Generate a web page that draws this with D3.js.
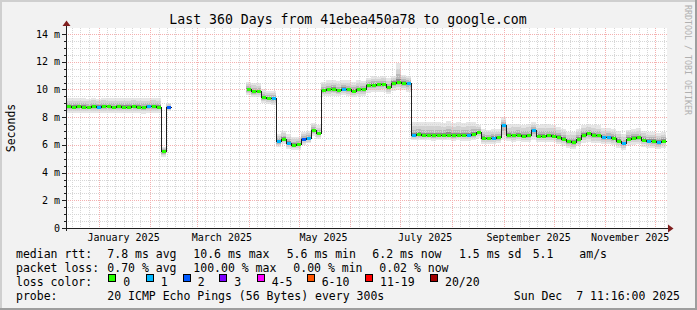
<!DOCTYPE html>
<html><head><meta charset="utf-8">
<script src="https://cdn.jsdelivr.net/npm/d3@7/dist/d3.min.js"></script>
<style>
html,body{margin:0;padding:0;background:#f2f2f2;}
svg{display:block;}
text{font-family:"DejaVu Sans Mono",monospace;fill:#000;}
</style></head><body>
<svg id="chart" width="697" height="310"></svg>
<script>
// ---------------- DATA ----------------
const startTime = new Date(2024, 11, 12, 11, 16);
const endTime   = new Date(2025, 11, 7, 11, 16);
const stepDays  = 3; // one sample every 3 days

// median RTT (ms), null = no data
const median = [
  8.78,8.75,8.78,8.76,8.74,8.78,8.75,8.77,8.78,8.74,8.80,8.76,8.75,8.78,8.76,8.74,8.77,8.78,8.76,
  5.55,8.70,
  null,null,null,null,null,null,null,null,null,null,null,null,null,null,null,
  10.02,9.88,9.90,9.45,9.40,9.35,6.25,6.45,6.15,6.02,6.05,6.45,6.50,7.05,6.85,
  9.95,10.00,10.05,9.95,10.05,10.00,9.92,10.00,10.02,10.30,10.35,10.38,10.40,10.15,10.50,10.55,10.50,10.45,
  6.72,6.75,6.70,6.74,6.68,6.72,6.70,6.74,6.68,6.72,6.70,6.70,6.75,6.95,6.52,6.50,6.52,6.55,7.45,
  6.70,6.68,6.72,6.65,6.68,7.05,6.66,6.66,6.68,6.65,6.58,6.45,6.25,6.22,6.45,6.72,6.82,6.72,6.68,
  6.55,6.55,6.52,6.30,6.10,6.45,6.52,6.55,6.38,6.30,6.30,6.22,6.30
];
// loss bucket index per sample (0 = "0", 1 = "1", 2 = "2", ...)
const lossIdx = [
  0,0,0,0,0,0,1,0,0,0,0,0,0,0,0,0,1,0,0,
  0,2,
  0,0,0,0,0,0,0,0,0,0,0,0,0,0,0,
  0,0,0,0,0,1,1,0,1,0,0,2,1,0,0,
  0,0,0,0,1,0,0,0,0,0,0,0,0,0,0,0,0,1,
  1,0,0,0,0,0,0,0,0,0,0,1,0,0,0,0,1,0,1,
  0,0,0,0,0,1,0,0,0,0,0,0,0,0,0,0,0,0,0,
  1,1,0,0,1,0,0,0,0,1,0,1,0
];
// smoke extent above / below the median (ms)
const smokeUp = [
  0.60,0.62,0.58,0.63,0.60,0.62,0.58,0.64,0.60,0.62,0.58,0.63,0.60,0.62,0.60,0.62,0.58,0.62,0.60,
  0.30,0.35,
  0,0,0,0,0,0,0,0,0,0,0,0,0,0,0,
  0.55,0.60,0.55,0.55,0.50,0.55,0.55,0.55,0.60,0.55,0.55,0.50,0.50,0.55,0.55,
  0.60,0.65,0.60,0.65,0.60,0.65,0.60,0.65,0.60,0.55,0.60,0.55,0.60,0.65,0.50,1.35,0.55,0.55,
  0.95,0.90,0.95,0.90,0.95,0.92,0.90,0.95,0.90,0.92,0.90,0.95,0.90,0.45,0.65,0.60,0.65,0.60,0.55,
  0.80,0.85,0.80,0.80,0.85,0.60,0.80,0.85,0.80,0.80,0.70,0.70,0.70,0.72,0.70,0.72,0.65,0.70,0.72,
  0.65,0.70,0.65,0.70,0.70,0.65,0.60,0.65,0.65,0.60,0.65,0.65,0.60
];
const smokeDown = [
  0.45,0.48,0.45,0.46,0.45,0.48,0.45,0.45,0.46,0.45,0.48,0.45,0.46,0.45,0.45,0.48,0.45,0.46,0.45,
  0.45,0.25,
  0,0,0,0,0,0,0,0,0,0,0,0,0,0,0,
  0.45,0.45,0.45,0.45,0.45,0.45,0.40,0.40,0.45,0.40,0.40,0.45,0.40,0.40,0.40,
  0.45,0.45,0.50,0.45,0.45,0.50,0.45,0.45,0.50,0.55,0.55,0.60,0.55,0.45,0.60,0.60,0.55,0.60,
  0.40,0.40,0.38,0.40,0.40,0.40,0.38,0.40,0.40,0.38,0.40,0.40,0.40,0.45,0.45,0.45,0.45,0.45,1.10,
  0.45,0.45,0.45,0.45,0.45,0.70,0.45,0.45,0.45,0.45,0.50,0.50,0.50,0.50,0.55,0.55,0.60,0.60,0.55,
  0.50,0.50,0.55,0.50,0.45,0.50,0.50,0.50,0.50,0.50,0.55,0.50,0.50
];

const yTickValues = [0, 2, 4, 6, 8, 10, 12, 14];
const xTickLabels = ["January 2025", "March 2025", "May 2025", "July 2025", "September 2025", "November 2025"];
const lossLabels = ["0", "1", "2", "3", "4-5", "6-10", "11-19", "20/20"];
const lossColors = ["#26ff00", "#00b8ff", "#0059ff", "#7e00ff", "#ff00ff", "#ff5500", "#ff0000", "#a10000"];

const titleText = "Last 360 Days from 41ebea450a78 to google.com";
const legendRows = [
  [["median rtt:", 16], ["7.8 ms avg", 107.3], ["10.6 ms max", 193.3], ["5.6 ms min", 286.7], ["6.2 ms now", 372.3], ["1.5 ms sd", 459], ["5.1", 532.7], ["am/s", 579.3]],
  [["packet loss:", 16], ["0.70 % avg", 107.3], ["100.00 % max", 193.3], ["0.00 % min", 293.3], ["0.02 % now", 379.3]],
  [["loss color:", 16]],
  [["probe:", 16], ["20 ICMP Echo Pings (56 Bytes) every 300s", 107.3]]
];
const lossBoxX = [108.3, 145.7, 182.7, 219.3, 256.7, 306.7, 365, 430];
const dateStamp = "Sun Dec  7 11:16:00 2025";

// ---------------- CHART ----------------
const W = 697, H = 310;
const L = 66, R = 666, T = 28, B = 228;
const svg = d3.select("#chart");

const x = d3.scaleTime().domain([startTime, endTime]).range([L, R]);
const y = d3.scaleLinear().domain([0, 14]).range([B, 34]);

// background + bevel
svg.append("rect").attr("width", W).attr("height", H).attr("fill", "#f2f2f2");
svg.append("path").attr("d", `M0,0H${W}V2H2V${H}H0Z`).attr("fill", "#cfcfcf");
svg.append("path").attr("d", `M${W},${H}H0V${H-2}H${W-2}V0H${W}Z`).attr("fill", "#9e9e9e");

// canvas
svg.append("rect").attr("x", L).attr("y", T).attr("width", R - L + 1).attr("height", B - T)
  .attr("fill", "#ffffff");

const samples = median.map((m, i) => ({
  t0: d3.timeDay.offset(startTime, i * stepDays),
  t1: d3.timeDay.offset(startTime, (i + 1) * stepDays),
  m, loss: lossIdx[i], up: smokeUp[i], down: smokeDown[i]
})).filter(d => d.t0 < endTime);

// smoke
const smokeLayers = [
  {f: 1.00, c: "#e6e6e6"},
  {f: 0.68, c: "#d2d2d2"},
  {f: 0.40, c: "#b8b8b8"},
  {f: 0.16, c: "#8c8c8c"}
];
const gSmoke = svg.append("g").attr("shape-rendering", "crispEdges");
smokeLayers.forEach(layer => {
  gSmoke.selectAll(null).data(samples.filter(d => d.m != null)).enter().append("rect")
    .attr("x", d => Math.round(x(d.t0)))
    .attr("width", d => Math.round(x(d.t1)) - Math.round(x(d.t0)))
    .attr("y", d => Math.round(y(d.m + d.up * layer.f)))
    .attr("height", d => Math.max(1, Math.round(y(d.m - d.down * layer.f)) - Math.round(y(d.m + d.up * layer.f))))
    .attr("fill", layer.c);
});

// grid
const minorCol = "#d6d6d6", majorCol = "#f4b0b0";
const gGrid = svg.append("g").attr("shape-rendering", "crispEdges");
const minorDays = [1, 6, 11, 16, 21, 26];
const months = d3.timeMonth.range(d3.timeMonth.floor(startTime), endTime);
const minorDates = [];
months.forEach(mo => minorDays.forEach(dd => {
  const dt = new Date(mo.getFullYear(), mo.getMonth(), dd);
  if (dt > startTime && dt < endTime) minorDates.push(dt);
}));
minorDates.filter(d => d.getDate() !== 1).forEach(d => {
  const px = Math.round(x(d)) + 0.5;
  gGrid.append("line").attr("x1", px).attr("x2", px).attr("y1", T).attr("y2", B)
    .attr("stroke", minorCol).attr("stroke-dasharray", "1,1");
});
const yMinor = d3.range(0.5, y.invert(T), 0.5).filter(v => v % 2 !== 0);
yMinor.forEach(v => {
  const py = Math.round(y(v)) + 0.5;
  gGrid.append("line").attr("x1", L).attr("x2", R + 1).attr("y1", py).attr("y2", py)
    .attr("stroke", minorCol).attr("stroke-dasharray", "1,1");
});
minorDates.filter(d => d.getDate() === 1).forEach(d => {
  const px = Math.round(x(d)) + 0.5;
  gGrid.append("line").attr("x1", px).attr("x2", px).attr("y1", T).attr("y2", B)
    .attr("stroke", majorCol).attr("stroke-dasharray", "1,1");
});
yTickValues.filter(v => v > 0).forEach(v => {
  const py = Math.round(y(v)) + 0.5;
  gGrid.append("line").attr("x1", L).attr("x2", R + 1).attr("y1", py).attr("y2", py)
    .attr("stroke", majorCol).attr("stroke-dasharray", "1,1");
});

// median black line
const linePts = [];
samples.forEach(d => {
  if (d.m == null) { linePts.push(null); return; }
  linePts.push({t: d.t0, v: d.m});
  linePts.push({t: d.t1, v: d.m});
});
const line = d3.line().defined(d => d != null)
  .x(d => Math.round(x(d.t)) + 0.5).y(d => Math.round(y(d.v)) + 0.5);
svg.append("path").attr("d", line(linePts)).attr("fill", "none")
  .attr("stroke", "#202020").attr("stroke-width", 1).attr("shape-rendering", "crispEdges");

// loss-colored median
svg.append("g").attr("shape-rendering", "crispEdges")
  .selectAll("rect").data(samples.filter(d => d.m != null)).enter().append("rect")
  .attr("x", d => Math.round(x(d.t0)) + 1)
  .attr("width", d => Math.round(x(d.t1)) - Math.round(x(d.t0)) - 1)
  .attr("y", d => Math.round(y(d.m)) - 1)
  .attr("height", 3)
  .attr("fill", d => lossColors[d.loss]);

// axes
const gAxis = svg.append("g").attr("shape-rendering", "crispEdges");
gAxis.append("line").attr("x1", 62).attr("x2", 670).attr("y1", B + 0.5).attr("y2", B + 0.5).attr("stroke", "#1f1f1f");
gAxis.append("line").attr("x1", L + 0.5).attr("x2", L + 0.5).attr("y1", B + 3).attr("y2", 25).attr("stroke", "#1f1f1f");
yTickValues.forEach(v => {
  const py = Math.round(y(v)) + 0.5;
  gAxis.append("line").attr("x1", 62).attr("x2", L).attr("y1", py).attr("y2", py).attr("stroke", "#1f1f1f");
});
yMinor.forEach(v => {
  const py = Math.round(y(v)) + 0.5;
  gAxis.append("line").attr("x1", 64).attr("x2", L).attr("y1", py).attr("y2", py).attr("stroke", "#1f1f1f");
});
svg.append("path").attr("d", "M668,224.5L673.5,228.5L668,232.5Z").attr("fill", "#801f1f");
svg.append("path").attr("d", "M62.5,26L66.5,20.5L70.5,26Z").attr("fill", "#801f1f");

// y tick labels
svg.append("g").selectAll("text").data(yTickValues).enter().append("text")
  .attr("x", 60).attr("y", v => y(v) + 3.5).attr("text-anchor", "end")
  .attr("font-size", "10px").text(v => v === 0 ? "0" : v + " m");

// x tick labels (centered at mid-month)
const parseMonth = d3.timeParse("%B %Y");
svg.append("g").selectAll("text").data(xTickLabels).enter().append("text")
  .attr("x", s => x(d3.timeDay.offset(parseMonth(s), 15)))
  .attr("y", 241).attr("text-anchor", "middle").attr("font-size", "10px").text(s => s);

// title
svg.append("text").attr("x", 348).attr("y", 23.5).attr("text-anchor", "middle")
  .attr("font-size", "13.2px").text(titleText);

// y label
svg.append("text").attr("transform", `translate(15,${(T + B) / 2}) rotate(-90)`)
  .attr("text-anchor", "middle").attr("font-size", "11.5px").text("Seconds");

// watermark
svg.append("text").attr("transform", "translate(685,5) rotate(90)")
  .attr("font-size", "8.3px").style("fill", "#b0b0b0").text("RRDTOOL / TOBI OETIKER");

// legend
const rowY = [258, 272, 286, 300];
legendRows.forEach((row, r) => {
  row.forEach(([s, px]) => {
    svg.append("text").attr("x", px).attr("y", rowY[r]).attr("font-size", "11.5px")
      .style("white-space", "pre").text(s);
  });
});
lossLabels.forEach((lab, i) => {
  svg.append("rect").attr("x", Math.round(lossBoxX[i]) + 0.5).attr("y", 274.5)
    .attr("width", 7).attr("height", 7).attr("fill", lossColors[i])
    .attr("stroke", "#000").attr("stroke-width", 1).attr("shape-rendering", "crispEdges");
  svg.append("text").attr("x", lossBoxX[i] + 15).attr("y", rowY[2]).attr("font-size", "11.5px").text(lab);
});
svg.append("text").attr("x", 680).attr("y", rowY[3]).attr("text-anchor", "end")
  .attr("font-size", "11.5px").style("white-space", "pre").text(dateStamp);
</script>
</body></html>
